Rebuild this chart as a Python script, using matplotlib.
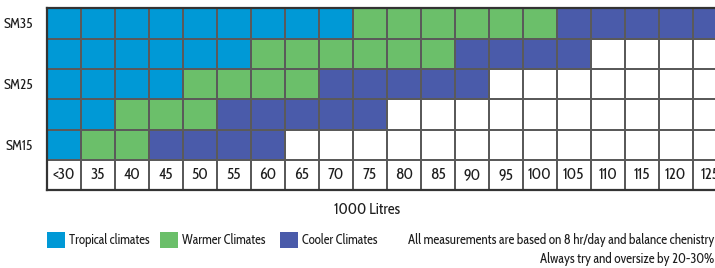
import matplotlib
matplotlib.use("Agg")
import matplotlib.pyplot as plt
from matplotlib.colors import ListedColormap
from matplotlib.patches import Rectangle
import numpy as np

# volume columns (1000 litres)
columns = ["<30", "35", "40", "45", "50", "55", "60", "65", "70", "75",
           "80", "85", "90", "95", "100", "105", "110", "115", "120", "125"]
row_labels = ["SM35", "", "SM25", "", "SM15"]

# number of columns per climate for each row, left to right
# (tropical first, then warmer, then cooler, rest not suitable)
tropical_run = [9, 6, 4, 2, 1]
warmer_run = [6, 6, 4, 3, 2]
cooler_run = [5, 4, 5, 5, 4]

legend_names = ["Tropical climates", "Warmer Climates", "Cooler Climates"]
colors = ["#ffffff", "#0099d6", "#6bbf6a", "#4a5baa"]
notes = ["All measurements are based on 8 hr/day and balance chenistry",
         "Always try and oversize by 20-30%"]

grid = []
for t, w, c in zip(tropical_run, warmer_run, cooler_run):
    row = [1] * t + [2] * w + [3] * c
    row += [0] * (len(columns) - len(row))
    grid.append(row[:len(columns)])
grid = np.array(grid)

plt.rcParams["font.family"] = ["Cabin Condensed", "PT Sans Narrow", "DejaVu Sans"]
txt_col = "#1e1e1e"

fig = plt.figure(figsize=(7.15, 2.68), dpi=100)
W, H = 715, 268
cell_w, cell_h = 34.0, 30.3
left, top = 46.7, 8.3
nrows = len(row_labels) + 1
ax = fig.add_axes([left / W, 1 - (top + nrows * cell_h) / H,
                   len(columns) * cell_w / W, nrows * cell_h / H])

full = np.vstack([grid, np.zeros((1, len(columns)), dtype=int)])
ax.pcolormesh(full, cmap=ListedColormap(colors), vmin=-0.5, vmax=3.5,
              edgecolors="#5a5a5a", linewidth=1.2)
ax.set_xlim(0, len(columns))
ax.set_ylim(nrows, 0)
for i, lab in enumerate(columns):
    ax.text(i + 0.5, nrows - 0.5, lab, ha="center", va="center",
            fontsize=11.5, color=txt_col)
ax.set_yticks(np.arange(len(row_labels)) + 0.5)
ax.set_yticklabels(row_labels, fontsize=10, color=txt_col)
ax.set_xticks([])
ax.tick_params(axis="y", length=0, pad=10)
for s in ax.spines.values():
    s.set_color("#333333")
    s.set_linewidth(1.6)

fig.text(367 / W, 1 - 210 / H, "1000 Litres", ha="center", va="center",
         fontsize=11, color=txt_col)

lx = [47, 160, 280]
for x, name, col in zip(lx, legend_names, colors[1:]):
    fig.patches.append(Rectangle((x / W, 1 - 248 / H), 18 / W, 16 / H,
                                 transform=fig.transFigure, facecolor=col,
                                 edgecolor="none"))
    fig.text((x + 22) / W, 1 - 240 / H, name, ha="left", va="center",
             fontsize=9.3, color=txt_col)

fig.text(714 / W, 1 - 240 / H, notes[0], ha="right", va="center",
         fontsize=9.5, color=txt_col)
fig.text(714 / W, 1 - 259 / H, notes[1], ha="right", va="center",
         fontsize=9.5, color=txt_col)

fig.savefig("out.png", dpi=100)
